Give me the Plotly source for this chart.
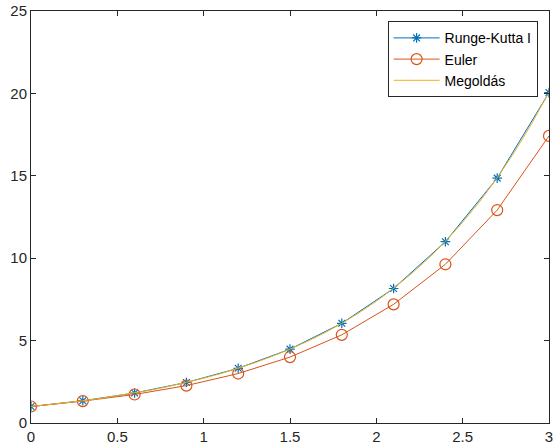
import plotly.graph_objects as go

x_steps = [0, 0.3, 0.6, 0.9, 1.2, 1.5, 1.8, 2.1, 2.4, 2.7, 3.0]
rk_values = [1.0, 1.35, 1.82, 2.46, 3.32, 4.48, 6.05, 8.16, 11.0, 14.86, 20.05]
euler_values = [1.0, 1.33, 1.73, 2.27, 3.0, 4.0, 5.35, 7.2, 9.63, 12.92, 17.42]

x_fine = [0, 0.1, 0.2, 0.3, 0.4, 0.5, 0.6, 0.7, 0.8, 0.9, 1.0, 1.1, 1.2, 1.3, 1.4, 1.5,
          1.6, 1.7, 1.8, 1.9, 2.0, 2.1, 2.2, 2.3, 2.4, 2.5, 2.6, 2.7, 2.8, 2.9, 3.0]
solution_values = [1.0, 1.105, 1.22, 1.35, 1.49, 1.65, 1.82, 2.01, 2.23, 2.46, 2.72,
                   3.0, 3.32, 3.67, 4.06, 4.48, 4.95, 5.47, 6.05, 6.69, 7.39, 8.17,
                   9.03, 9.97, 11.02, 12.18, 13.46, 14.88, 16.44, 18.17, 20.09]

x_ticks = [0, 0.5, 1, 1.5, 2, 2.5, 3]
x_ticklabels = ["0", "0.5", "1", "1.5", "2", "2.5", "3"]
y_ticks = [0, 5, 10, 15, 20, 25]

BLUE = "#0072BD"
RED = "#D95319"
YELLOW = "#EDB120"
AX = "#262626"
FONT = "Liberation Sans, Arial, sans-serif"

fig = go.Figure()
fig.add_trace(go.Scatter(
    x=x_steps, y=rk_values, name="Runge-Kutta I", mode="lines+markers",
    line=dict(color=BLUE, width=1),
    marker=dict(symbol="asterisk", size=8, line=dict(color=BLUE, width=1.2), color=BLUE),
))
fig.add_trace(go.Scatter(
    x=x_steps, y=euler_values, name="Euler", mode="lines+markers",
    line=dict(color=RED, width=1),
    marker=dict(symbol="circle-open", size=11, line=dict(color=RED, width=1.2), color=RED),
))
fig.add_trace(go.Scatter(
    x=x_fine, y=solution_values, name="Megoldás", mode="lines",
    line=dict(color=YELLOW, width=1),
))

axis_common = dict(
    showgrid=False, zeroline=False, showline=True, linecolor=AX, linewidth=1,
    mirror="ticks", ticks="inside", ticklen=5, tickcolor=AX, tickwidth=1,
    tickfont=dict(family=FONT, size=15, color=AX), automargin=False,
)

fig.update_layout(
    width=557, height=447,
    margin=dict(l=31, r=8, t=11, b=24, autoexpand=False),
    paper_bgcolor="white", plot_bgcolor="white",
    xaxis=dict(range=[0, 3], tickvals=x_ticks, ticktext=x_ticklabels, **axis_common),
    yaxis=dict(range=[0, 25], tickvals=y_ticks, **axis_common),
    legend=dict(
        x=0.978, y=0.975, xanchor="right", yanchor="top",
        bgcolor="white", bordercolor=AX, borderwidth=1,
        font=dict(family=FONT, size=14, color="black"),
        itemwidth=46, tracegroupgap=0,
    ),
    showlegend=True,
)

fig.write_html(
    "out.html",
    config={"displayModeBar": False},
    post_script="document.body.style.margin='0';document.body.style.overflow='hidden';",
)
